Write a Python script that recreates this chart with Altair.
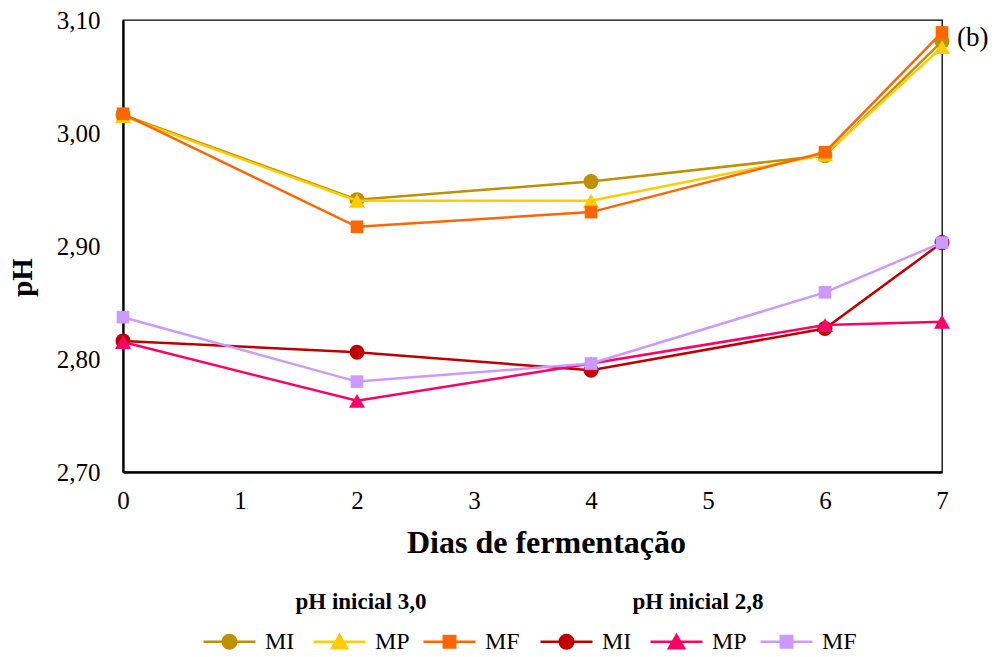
import altair as alt
import pandas as pd

# ---------------- data ----------------
days = [0, 2, 4, 6, 7]
series = ["MI", "MP", "MF"]

mi_30 = [3.016, 2.941, 2.957, 2.980, 3.081]
mp_30 = [3.015, 2.940, 2.940, 2.981, 3.076]
mf_30 = [3.017, 2.917, 2.930, 2.983, 3.089]

mi_28 = [2.816, 2.806, 2.790, 2.827, 2.903]
mp_28 = [2.815, 2.763, 2.796, 2.830, 2.833]
mf_28 = [2.837, 2.780, 2.796, 2.859, 2.903]

colors_30 = ["#BF9000", "#FFCC00", "#FF6600"]
colors_28 = ["#C00000", "#FF0066", "#CC99FF"]

group_keys = ["3,0", "2,8"]
group_titles = ["pH inicial 3,0", "pH inicial 2,8"]

x_ticks = [0, 1, 2, 3, 4, 5, 6, 7]
y_ticks = [2.7, 2.8, 2.9, 3.0, 3.1]
panel_label = ["(b)"]

rows = []
for grp, vals in zip(group_keys, [[mi_30, mp_30, mf_30], [mi_28, mp_28, mf_28]]):
    for s, v in zip(series, vals):
        for d, p in zip(days, v):
            rows.append({"grupo": grp, "serie": s, "dia": d, "pH": p})
df = pd.DataFrame(rows)

FONT = "Liberation Serif"

# marker styles
marker_shapes = ["circle", "triangle-up", "square"]
marker_sizes = [225, 256, 160]
legend_paths = [
    "M-1,0L1,0M0.26,0A0.26,0.26,0,1,1,-0.26,0A0.26,0.26,0,1,1,0.26,0Z",
    "M-1,0L1,0M0,-0.25L0.29,0.25L-0.29,0.25Z",
    "M-1,0L1,0M-0.22,-0.22L0.22,-0.22L0.22,0.22L-0.22,0.22Z",
]

x_enc = alt.X(
    "dia:Q",
    scale=alt.Scale(domain=[0, 7], nice=False, zero=False),
    axis=alt.Axis(
        values=x_ticks, title="Dias de fermentação", grid=False, ticks=False,
        labelFlush=False,
        labelFontSize=25, labelPadding=16, labelFont=FONT, labelColor="black",
        titleFontSize=32, titleFontWeight="bold", titleFont=FONT, titleColor="black",
        titlePadding=14, titleX=423, domainColor="black", domainWidth=2.3,
    ),
)
y_enc = alt.Y(
    "pH:Q",
    scale=alt.Scale(domain=[2.7, 3.1], nice=False, zero=False),
    axis=alt.Axis(
        values=y_ticks, title="pH", grid=False, ticks=False, labelFlush=False,
        labelExpr="replace(format(datum.value, '.2f'), '.', ',')",
        labelFontSize=25, labelPadding=23, labelFont=FONT, labelColor="black",
        titleFontSize=29, titleFontWeight="bold", titleFont=FONT, titleColor="black",
        titlePadding=19, titleY=257, domainColor="black", domainWidth=2.3,
    ),
)


def group_chart(grp, colors, title, legend_x):
    base = alt.Chart(df).transform_filter(alt.datum.grupo == grp)
    color = alt.Color("serie:N", scale=alt.Scale(domain=series, range=colors), legend=None)
    layers = []
    for s, sh, sz in zip(series, marker_shapes, marker_sizes):
        sub = base.transform_filter(alt.datum.serie == s)
        layers.append(sub.mark_line(strokeWidth=2.5).encode(x=x_enc, y=y_enc, color=color))
        layers.append(
            sub.mark_point(shape=sh, size=sz, filled=True, opacity=1, strokeWidth=0)
            .encode(x=x_enc, y=y_enc, color=color)
        )
    leg = alt.Legend(
        title=title, orient="none", legendX=legend_x, legendY=571,
        direction="horizontal", columns=3, gridAlign="all", columnPadding=8,
        symbolSize=2704, symbolStrokeWidth=2.5, symbolOpacity=1,
        labelFontSize=24, labelFont=FONT, labelColor="black", labelOffset=8,
        titleFontSize=23, titleFontWeight="bold", titleFont=FONT, titleColor="black",
        titleAnchor="middle", titlePadding=0, padding=0,
    )
    legend_layer = (
        base.transform_filter("false")
        .mark_point(filled=True, opacity=1, strokeWidth=2.5)
        .encode(
            x=x_enc, y=y_enc,
            fill=alt.Fill("serie:N", scale=alt.Scale(domain=series, range=colors), legend=leg),
            stroke=alt.Stroke("serie:N", scale=alt.Scale(domain=series, range=colors), legend=leg),
            shape=alt.Shape("serie:N", scale=alt.Scale(domain=series, range=legend_paths), legend=leg),
        )
    )
    layers.append(legend_layer)
    return alt.layer(*layers).resolve_scale(
        fill="independent", stroke="independent", shape="independent"
    )


g30 = group_chart(group_keys[0], colors_30, group_titles[0], 79)
g28 = group_chart(group_keys[1], colors_28, group_titles[1], 416)

label_df = pd.DataFrame({"txt": panel_label})
label_layer = alt.Chart(label_df).mark_text(
    align="left", baseline="middle", fontSize=27, font=FONT, color="black"
).encode(text="txt:N", x=alt.value(834), y=alt.value(18))

chart = (
    alt.layer(g30, g28, label_layer)
    .resolve_scale(color="independent", fill="independent", stroke="independent", shape="independent")
    .properties(
        width=819, height=452,
        autosize=alt.AutoSizeParams(type="none"),
        padding={"left": 123, "top": 20, "right": 55, "bottom": 185},
        background="white",
    )
    .configure(font=FONT)
    .configure_view(stroke="black", strokeWidth=1.3)
)

chart.save("out.html", embed_options={"renderer": "svg", "actions": False})
